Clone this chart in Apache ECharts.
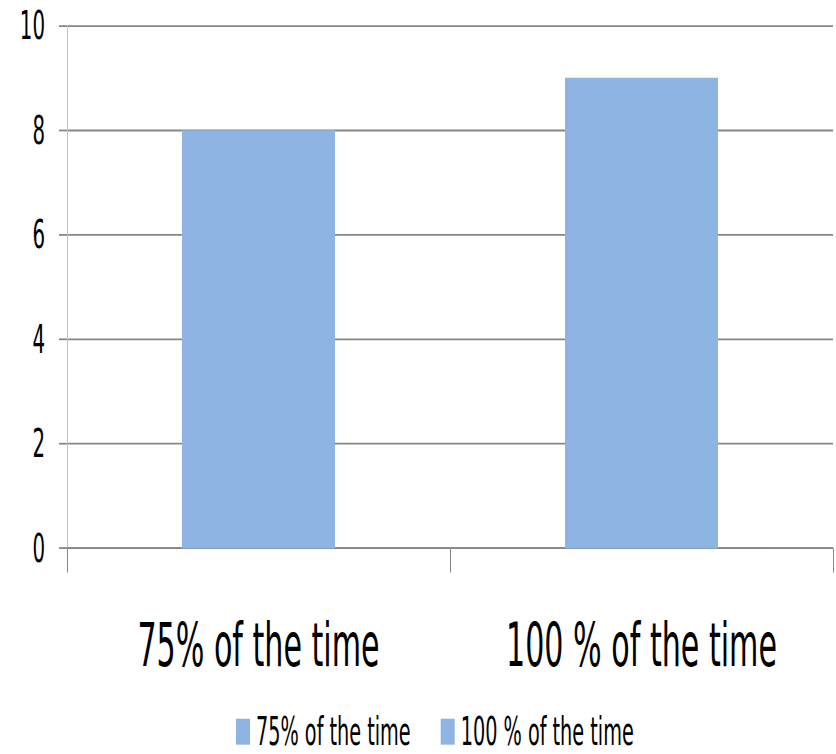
<!DOCTYPE html>
<html>
<head>
<meta charset="utf-8">
<script src="https://cdn.jsdelivr.net/npm/echarts@6/dist/echarts.min.js"></script>
<style>
  html, body { margin: 0; padding: 0; background: #fff; width: 836px; height: 754px; overflow: hidden; }
  #frame { position: relative; width: 836px; height: 754px; overflow: hidden; }
  /* the chart is laid out in a short box and stretched tall, giving the tall narrow lettering */
  #chart { position: absolute; left: 0; top: 0; width: 836px; height: 418.9px; transform: scaleY(1.8); transform-origin: 0 0; }
</style>
</head>
<body>
<div id="frame"><div id="chart"></div></div>
<script>
const categories = ['75% of the time', '100 % of the time'];
const seriesNames = ['75% of the time', '100 % of the time'];
const series75 = [8, '-'];
const series100 = ['-', 9];
const yTicks = { min: 0, max: 10, interval: 2 };

const FONT = '"Liberation Sans Narrow", "DejaVu Sans Condensed", "Liberation Sans", sans-serif';
const BAR = '#8EB4E3';
const GRID = '#868686';

const chart = echarts.init(document.getElementById('chart'), null, { renderer: 'svg' });
chart.setOption({
  animation: false,
  backgroundColor: '#fff',
  grid: { left: 67, right: 3, top: 14.2, bottom: 114.3, containLabel: false },
  legend: {
    left: 236, top: 396, padding: 0,
    itemWidth: 14, itemHeight: 14.4, itemGap: 30,
    icon: 'rect',
    textStyle: { fontFamily: FONT, fontSize: 21.4, color: '#000', padding: [0, 0, 0, 1] },
    data: seriesNames
  },
  xAxis: {
    type: 'category',
    data: categories,
    axisLine: { lineStyle: { color: GRID, width: 1 } },
    axisTick: { show: true, length: 13.3, lineStyle: { color: GRID, width: 1 } },
    axisLabel: { interval: 0, fontFamily: FONT, fontSize: 33.5, lineHeight: 34, color: '#000', margin: 36.7 }
  },
  yAxis: {
    type: 'value',
    min: yTicks.min, max: yTicks.max, interval: yTicks.interval,
    axisLine: { show: true, lineStyle: { color: '#BFBFBF', width: 1 } },
    axisTick: { show: true, length: 8, lineStyle: { color: GRID, width: 1 } },
    axisLabel: { fontFamily: FONT, fontSize: 22, color: '#000', margin: 22 },
    splitLine: { show: true, lineStyle: { color: GRID, width: 1 } }
  },
  series: [
    { name: seriesNames[0], type: 'bar', stack: 'all', data: series75, barWidth: 153, itemStyle: { color: BAR } },
    { name: seriesNames[1], type: 'bar', stack: 'all', data: series100, barWidth: 153, itemStyle: { color: BAR } }
  ]
});
</script>
</body>
</html>
